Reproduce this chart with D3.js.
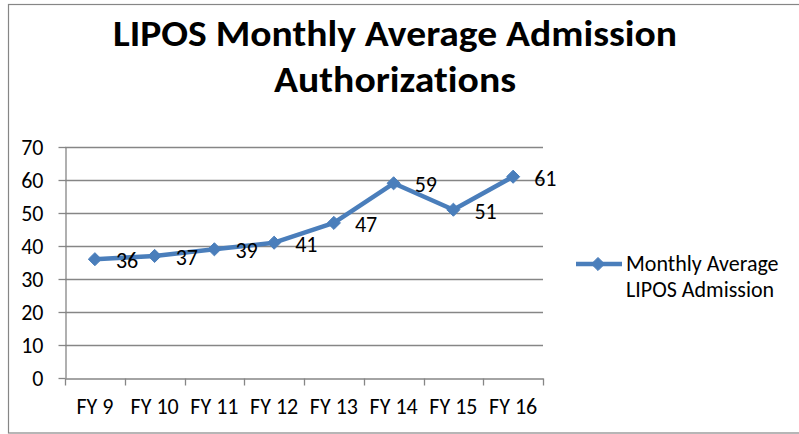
<!DOCTYPE html>
<html>
<head>
<meta charset="utf-8">
<script src="https://cdn.jsdelivr.net/npm/d3@7"></script>
<style>
  body { margin: 0; background: #fff; }
  svg { display: block; }
  text { font-family: Calibri, Carlito, "Liberation Sans", Arial, sans-serif; fill: #000; font-variant-ligatures: none; }
</style>
</head>
<body>
<svg id="chart" width="799" height="434"></svg>
<script>
// chart data
const categories = ["FY 9", "FY 10", "FY 11", "FY 12", "FY 13", "FY 14", "FY 15", "FY 16"];
const admissions = [36, 37, 39, 41, 47, 59, 51, 61];
const yTicks = [0, 10, 20, 30, 40, 50, 60, 70];
const titleLines = ["LIPOS Monthly Average Admission", "Authorizations"];
const legendLines = ["Monthly Average", "LIPOS Admission"];

const blue = "#4a7ebb";
const grid = "#868686";
const fs = "22px";

const svg = d3.select("#chart");

// outer frame
svg.append("rect")
    .attr("x", 8.5).attr("y", 4.5)
    .attr("width", 800).attr("height", 428.5)
    .attr("fill", "none")
    .attr("stroke", grid)
    .attr("stroke-width", 1.2);

// title, stretched to the width the original used
const titleW = [564, 242];
svg.selectAll(".title")
    .data(titleLines)
    .join("text")
    .attr("class", "title")
    .attr("x", 395)
    .attr("y", (d, i) => 46 + i * 46)
    .attr("text-anchor", "middle")
    .style("font-size", "37px")
    .style("font-weight", "bold")
    .text(d => d)
    .attr("textLength", (d, i) => titleW[i])
    .attr("lengthAdjust", "spacingAndGlyphs");

const plotL = 65, plotR = 543, plotT = 147, plotB = 378;

const x = d3.scaleBand().domain(categories).range([plotL, plotR]);
const y = d3.scaleLinear().domain([0, 70]).range([plotB, plotT]);

// gridlines
svg.append("g")
    .selectAll("line")
    .data(yTicks.filter(d => d > 0))
    .join("line")
    .attr("x1", plotL).attr("x2", plotR)
    .attr("y1", d => Math.round(y(d)) + 0.5)
    .attr("y2", d => Math.round(y(d)) + 0.5)
    .attr("stroke", grid)
    .attr("stroke-width", 1.3);

// y axis
const yAxis = svg.append("g")
    .attr("transform", `translate(${plotL + 0.5},0)`)
    .call(d3.axisLeft(y).tickValues(yTicks).tickSize(7).tickPadding(15).tickSizeOuter(0));
yAxis.select(".domain").attr("stroke", grid).attr("stroke-width", 1.3);
yAxis.selectAll(".tick line").attr("stroke", grid).attr("stroke-width", 1.3);
yAxis.selectAll(".tick text")
    .attr("font-family", null)
    .attr("font-size", null)
    .style("font-size", fs)
    .attr("dy", "0.35em");

// x axis
const xAxis = svg.append("g")
    .attr("transform", `translate(0,${Math.round(plotB) + 0.5})`)
    .call(d3.axisBottom(x).tickSize(0).tickPadding(20).tickSizeOuter(0));
xAxis.select(".domain").attr("stroke", grid).attr("stroke-width", 1.3);
xAxis.selectAll(".tick text")
    .attr("font-family", null)
    .attr("font-size", null)
    .style("font-size", fs);

// category boundary ticks
const bounds = categories.map(c => x(c)).concat([x(categories[categories.length - 1]) + x.bandwidth()]);
xAxis.selectAll(".bound")
    .data(bounds)
    .join("line")
    .attr("class", "bound")
    .attr("x1", d => Math.round(d) + 0.5).attr("x2", d => Math.round(d) + 0.5)
    .attr("y1", 0).attr("y2", 7)
    .attr("stroke", grid)
    .attr("stroke-width", 1.3);

// series
const pts = categories.map((c, i) => ({ c, v: admissions[i] }));
const cx = d => x(d.c) + x.bandwidth() / 2;

svg.append("path")
    .datum(pts)
    .attr("fill", "none")
    .attr("stroke", blue)
    .attr("stroke-width", 4.5)
    .attr("stroke-linejoin", "round")
    .attr("d", d3.line().x(cx).y(d => y(d.v)));

const diamond = d3.symbol().type(d3.symbolDiamond2).size(110);

svg.selectAll(".marker")
    .data(pts)
    .join("path")
    .attr("class", "marker")
    .attr("transform", d => `translate(${cx(d)},${y(d.v)})`)
    .attr("d", diamond)
    .attr("fill", blue)
    .attr("stroke", blue)
    .attr("stroke-width", 1);

svg.selectAll(".dlabel")
    .data(pts)
    .join("text")
    .attr("class", "dlabel")
    .attr("x", d => cx(d) + 21)
    .attr("y", d => y(d.v) + 9)
    .style("font-size", fs)
    .text(d => d.v);

// legend
const lg = svg.append("g").attr("transform", "translate(576,264)");
lg.append("line")
    .attr("x1", 0).attr("x2", 46)
    .attr("y1", 0).attr("y2", 0)
    .attr("stroke", blue)
    .attr("stroke-width", 4.5);
lg.append("path")
    .attr("transform", "translate(22,0)")
    .attr("d", diamond)
    .attr("fill", blue)
    .attr("stroke", blue);
lg.selectAll("text")
    .data(legendLines)
    .join("text")
    .attr("x", 50)
    .attr("y", (d, i) => 7 + i * 26)
    .style("font-size", fs)
    .text(d => d);
</script>
</body>
</html>
